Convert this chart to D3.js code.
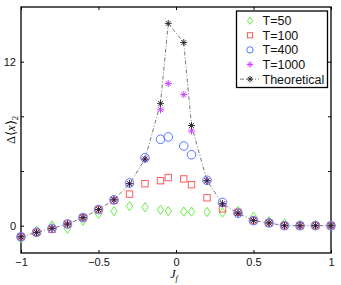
<!DOCTYPE html>
<html>
<head>
<meta charset="utf-8">
<script src="https://cdn.jsdelivr.net/npm/d3@7"></script>
<style>
  body { margin: 0; background: #fff; }
  svg { font-family: "Liberation Sans", Arial, sans-serif; }
</style>
</head>
<body>
<svg id="chart" width="341" height="285"></svg>
<script>
// x positions (J_f)
var jf = [-1, -0.9, -0.8, -0.7, -0.6, -0.5, -0.4, -0.3, -0.2, -0.1, -0.05, 0.05, 0.1, 0.2, 0.3, 0.4, 0.5, 0.6, 0.7, 0.8, 0.9, 1];

// series values
var t50   = [-0.91, -0.37, 0.02, -0.22, 0.37, 0.86, 1.06, 1.43, 1.35, 1.16, 1.06, 1.03, 1.03, 1.0, 0.96, 1.06, 0.66, 0.32, 0.17, 0.07, 0.05, 0];
var t100  = [-0.81, -0.49, -0.27, 0.12, 0.59, 1.18, 1.84, 2.31, 3.07, 3.29, 3.52, 3.42, 3.0, 2.04, 1.23, 0.98, 0.37, 0.2, 0, 0, 0, 0];
var t400  = [-0.81, -0.49, -0.2, 0.12, 0.59, 1.18, 1.89, 3.12, 4.97, 6.32, 6.49, 5.83, 5.19, 3.32, 1.7, 0.91, 0.37, 0.2, 0, 0, 0, 0];
var t1000 = [-0.81, -0.49, -0.2, 0.12, 0.59, 1.18, 1.89, 3.07, 4.87, 8.48, 10.4, 9.59, 6.93, 3.29, 1.6, 0.91, 0.37, 0.2, 0, 0, 0, 0];
var theo  = [-0.81, -0.49, -0.2, 0.12, 0.59, 1.18, 1.89, 3.07, 4.87, 8.95, 14.8, 13.4, 7.33, 3.29, 1.6, 0.91, 0.37, 0.2, 0, 0, 0, 0];

var xTicks = [-1, -0.5, 0, 0.5, 1];
var yTicks = [0, 4, 8, 12];
var yLabelled = [0, 12];

var seriesNames = ["T=50", "T=100", "T=400", "T=1000", "Theoretical"];

var svg = d3.select("#chart");
var pl = 21, pr = 331, pt = 7, pb = 253;

var x = d3.scaleLinear().domain([-1, 1]).range([pl, pr]);
var y = d3.scaleLinear().domain([-2, 16]).range([pb, pt]);

// frame
svg.append("rect")
  .attr("x", pl).attr("y", pt)
  .attr("width", pr - pl).attr("height", pb - pt)
  .attr("fill", "none").attr("stroke", "#000").attr("stroke-width", 1.3);

// axes, ticks pointing in
var fmtX = function(d) { return d == 0 ? "0" : (d < 0 ? "\u2212" + Math.abs(d) : d); };
var gx = svg.append("g").attr("transform", "translate(0," + pb + ")")
  .call(d3.axisBottom(x).tickValues(xTicks).tickSize(-3).tickPadding(5).tickFormat(fmtX));
var gxt = svg.append("g").attr("transform", "translate(0," + pt + ")")
  .call(d3.axisTop(x).tickValues(xTicks).tickSize(-3).tickFormat(""));
var gy = svg.append("g").attr("transform", "translate(" + pl + ",0)")
  .call(d3.axisLeft(y).tickValues(yTicks).tickSize(-3).tickPadding(5)
    .tickFormat(function(d) { return yLabelled.indexOf(d) >= 0 ? d : ""; }));
var gyr = svg.append("g").attr("transform", "translate(" + pr + ",0)")
  .call(d3.axisRight(y).tickValues(yTicks).tickSize(-3).tickFormat(""));

[gx, gxt, gy, gyr].forEach(function(g) {
  g.select(".domain").remove();
  g.selectAll("line").attr("stroke", "#000");
  g.selectAll("text").attr("font-size", 11).attr("font-family", "Liberation Sans, Arial, sans-serif").attr("fill", "#111");
});

// axis titles
svg.append("text")
  .attr("x", x(0) - 2).attr("y", 278)
  .attr("text-anchor", "middle")
  .attr("font-family", "Liberation Serif, serif").attr("font-style", "italic").attr("font-size", 12)
  .text("J")
  .append("tspan").attr("dy", 2.5).attr("font-size", 8).text("f");

var yl = svg.append("text")
  .attr("transform", "translate(15,130) rotate(-90)")
  .attr("text-anchor", "middle")
  .attr("font-family", "Liberation Serif, serif").attr("font-size", 12.5);
yl.append("tspan").text("\u0394\u27E8");
yl.append("tspan").attr("font-style", "italic").text("x");
yl.append("tspan").text("\u27E9");
yl.append("tspan").attr("dy", 3).attr("font-size", 8.5).text("2");

// marker shapes
function diamond(g, cx, cy, s) {
  g.append("path").attr("d", "M" + cx + "," + (cy - s * 1.15) + "L" + (cx + s * 0.8) + "," + cy +
    "L" + cx + "," + (cy + s * 1.15) + "L" + (cx - s * 0.8) + "," + cy + "Z")
    .attr("fill", "none").attr("stroke", "#66ee44").attr("stroke-width", 1);
}
function square(g, cx, cy, s) {
  g.append("rect").attr("x", cx - s * 0.8).attr("y", cy - s * 0.8).attr("width", s * 1.6).attr("height", s * 1.6)
    .attr("fill", "none").attr("stroke", "#ff5c5c").attr("stroke-width", 1);
}
function circle(g, cx, cy, s) {
  g.append("circle").attr("cx", cx).attr("cy", cy).attr("r", s)
    .attr("fill", "none").attr("stroke", "#5577ff").attr("stroke-width", 1);
}
function star(col, w) {
  return function(g, cx, cy, s) {
    var d = "M" + (cx - s) + "," + cy + "H" + (cx + s) + "M" + cx + "," + (cy - s) + "V" + (cy + s) +
      "M" + (cx - s * 0.7) + "," + (cy - s * 0.7) + "L" + (cx + s * 0.7) + "," + (cy + s * 0.7) +
      "M" + (cx - s * 0.7) + "," + (cy + s * 0.7) + "L" + (cx + s * 0.7) + "," + (cy - s * 0.7);
    g.append("path").attr("d", d).attr("fill", "none").attr("stroke", col).attr("stroke-width", w);
  };
}

var allSeries = [
  { vals: t50, mark: diamond, size: 4 },
  { vals: t100, mark: square, size: 4 },
  { vals: t400, mark: circle, size: 4.3 },
  { vals: t1000, mark: star("#cc44ff", 1), size: 3.5 },
  { vals: theo, mark: star("#222", 0.9), size: 3.5 }
];

// theoretical dash-dot line
svg.append("path")
  .datum(theo)
  .attr("d", d3.line().x(function(d, i) { return x(jf[i]); }).y(function(d) { return y(d); }))
  .attr("fill", "none").attr("stroke", "#555").attr("stroke-width", 0.8)
  .attr("stroke-dasharray", "4,2,1,2");

allSeries.forEach(function(s) {
  var g = svg.append("g");
  s.vals.forEach(function(v, i) { s.mark(g, x(jf[i]), y(v), s.size); });
});

// legend
var lg = svg.append("g");
lg.append("rect").attr("x", 236.5).attr("y", 11).attr("width", 91).attr("height", 76.5)
  .attr("fill", "#fff").attr("stroke", "#000").attr("stroke-width", 1.3);
seriesNames.forEach(function(name, i) {
  var ly = 20.7 + i * 14.6;
  if (i == 4) {
    lg.append("line").attr("x1", 240).attr("x2", 259).attr("y1", ly).attr("y2", ly)
      .attr("stroke", "#555").attr("stroke-width", 0.8).attr("stroke-dasharray", "4,2,1,2");
  }
  allSeries[i].mark(lg, 250, ly, 3.2);
  lg.append("text").attr("x", 262.5).attr("y", ly + 4.5)
    .attr("font-size", 12.5).attr("fill", "#111").text(name);
});
</script>
</body>
</html>
